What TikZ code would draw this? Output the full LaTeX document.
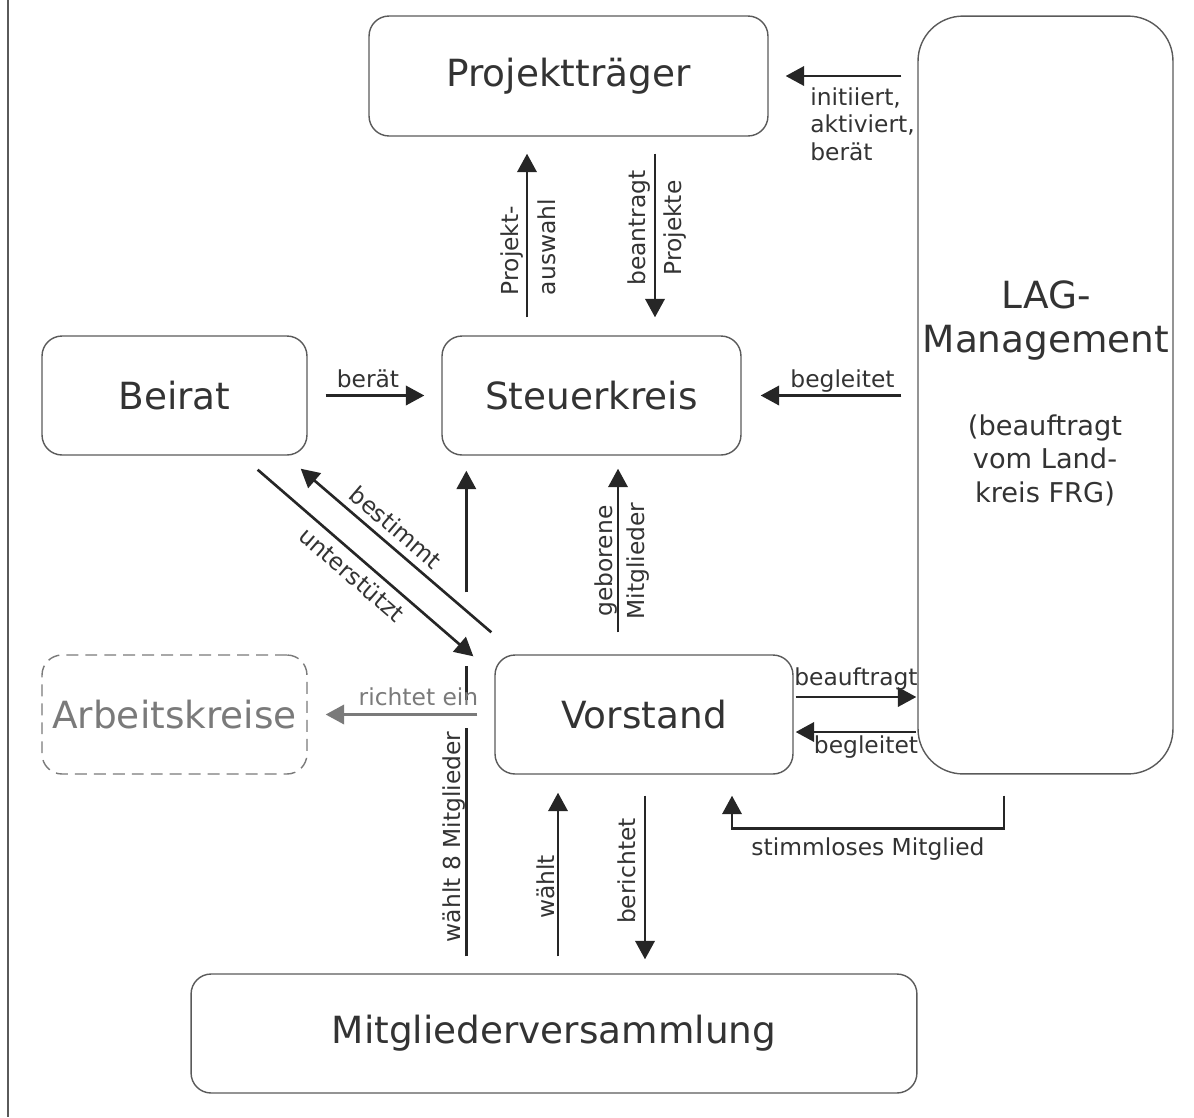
\documentclass[tikz,border=0pt]{standalone}
\usepackage{fontspec}
\setmainfont{DejaVu Sans}
\usetikzlibrary{arrows.meta,calc}
\definecolor{rahmen}{HTML}{5A5A5A}
\definecolor{schrift}{HTML}{333333}
\definecolor{pfeilfarbe}{HTML}{262626}
\definecolor{blass}{HTML}{7A7A7A}

\begin{document}
\begin{tikzpicture}[x=0.02cm, y=-0.02cm,
    box/.style={draw=rahmen, line width=0.8pt, rounded corners=0.4cm, text=schrift, font=\fontsize{21.3}{25}\selectfont, minimum height=2.38cm},
    pfeil/.style={pfeilfarbe, line width=1.5pt, -{Triangle[length=10.5pt,width=11pt]}},
    linie/.style={pfeilfarbe, line width=1.5pt},
    lbl/.style={text=schrift, font=\fontsize{13.3}{15.6}\selectfont, inner sep=0pt}]
    \useasboundingbox (0,0) rectangle (1194,1117);
    \draw[rahmen, line width=0.8pt] (8,0) -- (8,1117);

    % Boxes
    \node[box, minimum width=7.98cm, minimum height=2.4cm] (PT) at (568.5,76) {Projektträger};
    \node[box, minimum width=5.1cm, minimum height=15.16cm, rounded corners=0.9cm] (LAG) at (1045.5,395) {};
    \node[box, minimum width=5.3cm] (Beirat) at (174.5,395.5) {Beirat};
    \node[box, minimum width=5.98cm] (Steuer) at (591.5,395.5) {Steuerkreis};
    \node[box, minimum width=5.3cm, draw=blass, dash pattern=on 6.8pt off 4pt, text=blass] (Arbeit) at (174.5,714.5) {Arbeitskreise};
    \node[box, minimum width=5.96cm] (Vorstand) at (644,714.5) {Vorstand};
    \node[box, minimum width=14.52cm] (MV) at (554,1033.5) {Mitgliederversammlung};

    % Text in the LAG box (base = last line)
    \node[text=schrift, font=\fontsize{21.3}{25}\selectfont, align=center, anchor=base] (LAGtitel) at (1046,352) {LAG-\\Management};
    \node[text=schrift, font=\fontsize{15.5}{19}\selectfont, align=center, anchor=base] (LAGzusatz) at (1045,502) {(beauftragt\\vom Land-\\kreis FRG)};

    % Arrows around the Projekttraeger
    \draw[pfeil] ($(LAG.west |- PT.east)+(-16,0)$) -- ($(PT.east)+(17,0)$);
    \node[lbl, align=left, anchor=base west] (lInit) at (810,160) {initiiert,\\aktiviert,\\berät};
    \draw[pfeil] ($(Steuer.north -| PT.south)+(-41.5,-18)$) -- ($(PT.south)+(-41.5,17)$);
    \node[lbl, font=\fontsize{13.3}{21}\selectfont, rotate=90, align=left, anchor=base] (lAuswahl) at (555,247) {Projekt-\\auswahl};
    \draw[pfeil] ($(PT.south)+(86.5,17)$) -- ($(Steuer.north -| PT.south)+(86.5,-18)$);
    \node[lbl, font=\fontsize{13.3}{20}\selectfont, rotate=90, align=center, anchor=base] (lAntrag) at (681,228) {beantragt\\Projekte};

    % Arrows into the Steuerkreis
    \draw[pfeil] ($(Beirat.east)+(18,0)$) -- ($(Steuer.west)+(-17,0)$);
    \node[lbl, anchor=base] (lBeraet) at (368,387) {berät};
    \draw[pfeil] ($(LAG.west |- Steuer.east)+(-16,0)$) -- ($(Steuer.east)+(19,0)$);
    \node[lbl, anchor=base] (lBegleitet) at (842.5,387) {begleitet};
    \draw[pfeil] ($(Vorstand.north -| Steuer.south)+(26.5,-22)$) -- ($(Steuer.south)+(26.5,13)$);
    \node[lbl, font=\fontsize{13.3}{18}\selectfont, rotate=90, align=center, anchor=base] (lGeboren) at (644,561) {geborene\\Mitglieder};

    % Beirat and Vorstand
    \draw[pfeil] ($(Beirat.south east)+(-50,14)$) -- node[lbl, sloped, below=4pt, pos=0.49] (lUnter) {unterstützt} ($(Vorstand.north west)+(-21,2)$);
    \draw[pfeil] ($(Vorstand.north west)+(-3,-22)$) -- node[lbl, sloped, above=4pt, pos=0.56] (lBestimmt) {bestimmt} ($(Beirat.south east)+(-7,13)$);

    % Mitgliederversammlung up to the Steuerkreis
    \draw[linie] ($(MV.north -| Vorstand.west)+(-28,-17)$) -- ($(Vorstand.west)+(-28,13.5)$);
    \draw[linie] ($(Vorstand.west)+(-28,-14.5)$) -- ($(Vorstand.north west)+(-28,12)$);
    \draw[pfeil] ($(Vorstand.north west)+(-28,-62)$) -- ($(Steuer.south -| Vorstand.west)+(-28,15)$);
    \node[lbl, rotate=90, anchor=base] (lAcht) at (460,837) {wählt 8 Mitglieder};

    \draw[pfeil, blass] ($(Vorstand.west)+(-17,0)$) -- ($(Arbeit.east)+(18,0)$);
    \node[lbl, text=blass, anchor=base] (lRichtet) at (418.5,705) {richtet ein};

    % Vorstand and Mitgliederversammlung
    \draw[pfeil] ($(MV.north)+(4,-17)$) -- ($(Vorstand.south -| MV.north)+(4,18)$);
    \node[lbl, rotate=90, anchor=base] (lWaehlt) at (554,887) {wählt};
    \draw[pfeil] ($(Vorstand.south)+(1,21)$) -- ($(MV.north -| Vorstand.south)+(1,-14)$);
    \node[lbl, rotate=90, anchor=base] (lBericht) at (635,871) {berichtet};

    % Vorstand and LAG-Management
    \draw[pfeil] ($(Vorstand.east)+(2,-17.5)$) -- ($(LAG.west |- Vorstand.east)+(-1,-17.5)$);
    \node[lbl, anchor=base] (lBeauftragt) at (856,685) {beauftragt};
    \draw[pfeil] ($(LAG.west |- Vorstand.east)+(-1,17.5)$) -- ($(Vorstand.east)+(2,17.5)$);
    \node[lbl, anchor=base] (lBegleitet2) at (866,753) {begleitet};
    \draw[pfeil] ($(LAG.south)+(-41.5,21)$) -- ++(0,33) -| ($(Vorstand.south)+(88,21)$);
    \node[lbl, anchor=base] (lStimmlos) at (868,855) {stimmloses Mitglied};
\end{tikzpicture}
\end{document}
